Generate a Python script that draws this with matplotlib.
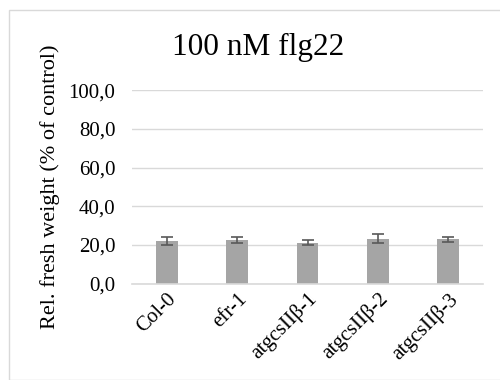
import matplotlib
matplotlib.use("Agg")
import matplotlib.pyplot as plt
from matplotlib.patches import Rectangle

categories = ["Col-0", "efr-1", "atgcsIIβ-1", "atgcsIIβ-2", "atgcsIIβ-3"]
values = [22.0, 22.7, 21.2, 23.3, 23.0]
errors = [2.2, 1.5, 1.3, 2.3, 1.3]
yticks = [0, 20, 40, 60, 80, 100]
ytick_labels = ["0,0", "20,0", "40,0", "60,0", "80,0", "100,0"]

plt.rcParams['font.family'] = ['Liberation Serif', 'DejaVu Serif']

W, H = 500, 380
fig = plt.figure(figsize=(W/100, H/100), dpi=100)
fig.patches.append(Rectangle((9/W, 0), 1, 1 - 10/H, transform=fig.transFigure,
                             fill=False, edgecolor='#d9d9d9', linewidth=1.0))
ax = fig.add_axes([132/W, 1 - 283.7/H, (483-132)/W, (283.7-90.3)/H])

x = range(len(categories))
ax.bar(x, values, width=0.31, color='#a5a5a5', zorder=2)
ax.errorbar(x, values, yerr=errors, fmt='none', ecolor='#595959', elinewidth=1.2,
            capsize=4, capthick=1.2, zorder=3)

ax.set_xlim(-0.5, len(categories) - 0.5)
ax.set_ylim(0, 100)
ax.set_yticks(yticks)
ax.set_yticklabels(ytick_labels, fontsize=15)
ax.set_xticks(list(x))
ax.set_xticklabels(categories, fontsize=15, rotation=45, ha='right', rotation_mode='anchor')
ax.tick_params(axis='both', length=0)
ax.tick_params(axis='y', pad=12)
ax.tick_params(axis='x', pad=4)
ax.grid(axis='y', color='#d9d9d9', linewidth=1.0, zorder=0)
ax.set_axisbelow(True)
for s in ['top', 'right', 'left']:
    ax.spines[s].set_visible(False)
ax.spines['bottom'].set_color('#d9d9d9')
ax.spines['bottom'].set_linewidth(1.2)

ax.set_ylabel("Rel. fresh weight (% of control)", fontsize=16, labelpad=6)
fig.text(258/W, 1 - 47/H, "100 nM flg22", fontsize=22.5, ha='center', va='center')

fig.savefig("out.png", dpi=100)
